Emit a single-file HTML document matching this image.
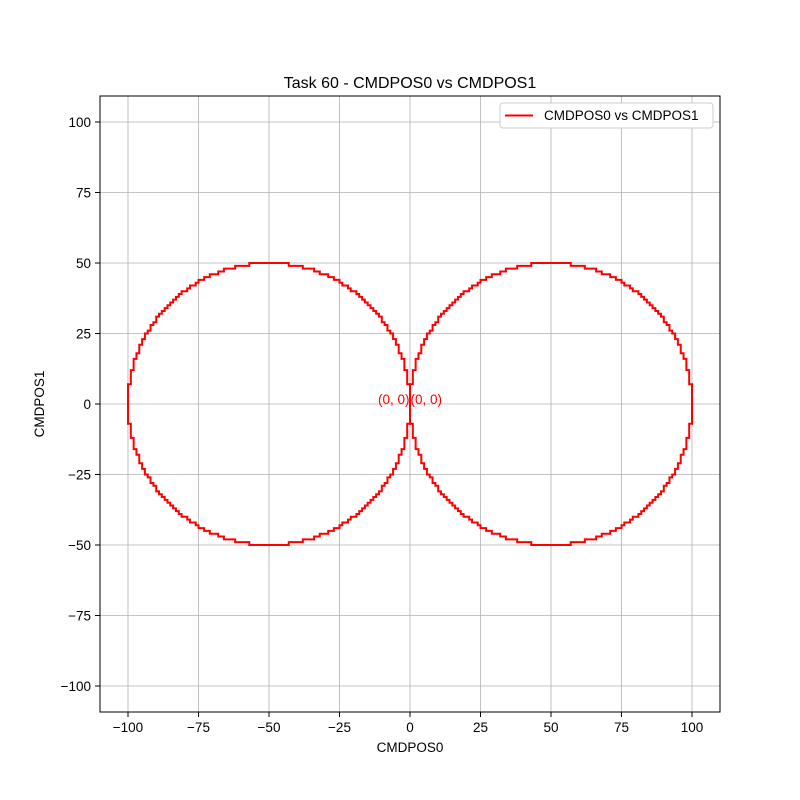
<!DOCTYPE html>
<html><head><meta charset="utf-8"><style>body{margin:0;background:#fff}svg{display:block;font-family:"Liberation Sans","DejaVu Sans",sans-serif}</style></head>
<body>
<svg id="chart" width="800" height="800" viewBox="0 0 800 800" xmlns="http://www.w3.org/2000/svg">
<rect width="800" height="800" fill="#fff"/>
<text x="410" y="88" font-size="16" text-anchor="middle">Task 60 - CMDPOS0 vs CMDPOS1</text>
<g id="grid"></g>
<g id="series"></g>
<rect x="100" y="96" width="620" height="616" fill="none" stroke="#000" stroke-width="1"/>
<g id="ticks"></g>
<text x="410" y="752" font-size="13.5" text-anchor="middle">CMDPOS0</text>
<text transform="translate(44,404) rotate(-90)" font-size="13.5" text-anchor="middle">CMDPOS1</text>
<g>
<rect x="500" y="103" width="213" height="25" rx="3" fill="#fff" stroke="#ccc"/>
<line x1="505" y1="115.5" x2="533" y2="115.5" stroke="red" stroke-width="2"/>
<text x="544" y="120" font-size="13.5">CMDPOS0 vs CMDPOS1</text>
</g>
</svg>
<script>
const xTicks=[-100,-75,-50,-25,0,25,50,75,100];
const yTicks=[-100,-75,-50,-25,0,25,50,75,100];
const centersX=[-50,50];
const radius=50;
// x extent of each rounded-y step, for y = 50 down to 1 (quarter circle)
const stepDx=[7,12,16,18,21,23,25,26,28,29,31,32,33,34,35,36,37,38,39,40,40,41,42,42,43,44,44,45,45,46,46,46,47,47,48,48,48,48,49,49,49,49,49,50,50,50,50,50,50,50];
const labels=["(0, 0)","(0, 0)"];

const NS="http://www.w3.org/2000/svg";
const X=v=>410+v*2.82, Y=v=>404-v*2.82;
const grid=document.getElementById('grid'),ticks=document.getElementById('ticks'),series=document.getElementById('series');
function mk(tag,attrs,parent){const e=document.createElementNS(NS,tag);for(const k in attrs)e.setAttribute(k,attrs[k]);parent.appendChild(e);return e;}
xTicks.forEach(t=>{
 const g=mk('line',{x1:X(t),x2:X(t),y1:96,y2:712,stroke:'#b0b0b0','stroke-width':0.8},grid);
 
 
 const m=mk('line',{x1:X(t),x2:X(t),y1:712,y2:717,stroke:'#000'},ticks);
 
 
 const l=mk('text',{x:X(t),y:732,'font-size':13.5,'text-anchor':'middle'},ticks);
 l.textContent=(t<0?'\u2212'+(-t):t);
 
 
});
yTicks.forEach(t=>{
 const g=mk('line',{x1:100,x2:720,y1:Y(t),y2:Y(t),stroke:'#b0b0b0','stroke-width':0.8},grid);
 
 
 const m=mk('line',{x1:95,x2:100,y1:Y(t),y2:Y(t),stroke:'#000'},ticks);
 
 
 const l=mk('text',{x:91,y:Y(t)+5,'font-size':13.5,'text-anchor':'end'},ticks);
 l.textContent=(t<0?'\u2212'+(-t):t);
 
 
});
// quarter staircase in (dx,dy)
const q=[[0,radius]];
stepDx.forEach((dx,i)=>{const k=radius-i;q.push([dx,k]);q.push([dx,k-1]);});
q.push([radius,0]);
centersX.forEach((cx,ci)=>{
 const pts=[];
 q.forEach(([dx,dy])=>pts.push([cx+dx,dy]));
 q.slice().reverse().forEach(([dx,dy])=>pts.push([cx+dx,-dy]));
 q.forEach(([dx,dy])=>pts.push([cx-dx,-dy]));
 q.slice().reverse().forEach(([dx,dy])=>pts.push([cx-dx,dy]));
 const p=mk('polyline',{points:pts.map(p=>X(p[0])+','+Y(p[1])).join(' '),fill:'none',stroke:'red','stroke-width':2},series);
 
 
});
labels.forEach((s,i)=>{
 const t=mk('text',{x:X(0)+(i===0?-0.5:0.5),y:Y(0)+0,'font-size':13.5,fill:'red','text-anchor':i===0?'end':'start'},series);
 t.textContent=s;
 
 
});
</script>
</body></html>
